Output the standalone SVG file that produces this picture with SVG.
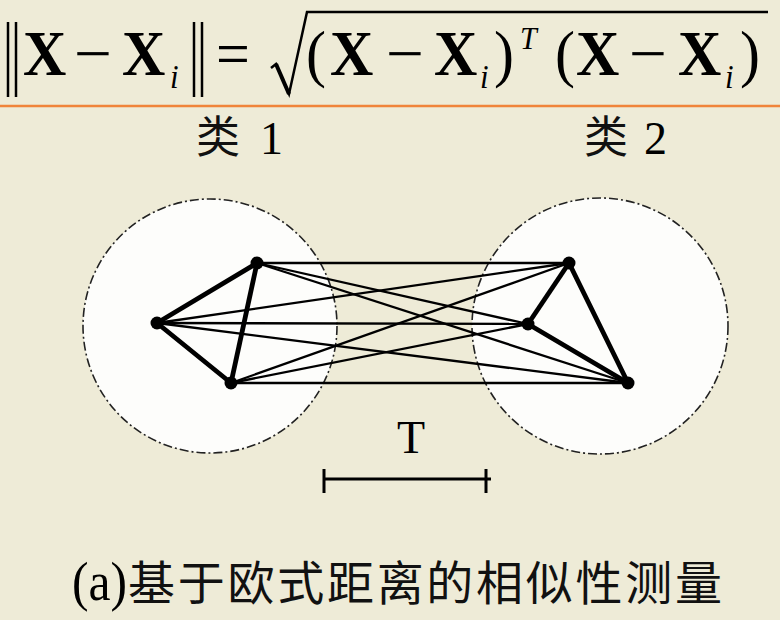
<svg xmlns="http://www.w3.org/2000/svg" width="780" height="620" viewBox="0 0 780 620">
<style>
.f{font-family:"Liberation Serif","Times New Roman",serif;fill:#000}
.b{font-weight:bold;font-size:60px}
.r{font-size:60px}
.sub{font-style:italic;font-size:31px}
.cjk{font-family:"Noto Sans CJK SC","Noto Sans CJK JP",sans-serif;fill:#111}
.thin{stroke:#000;stroke-width:2.3;fill:none}
.thick{stroke:#000;stroke-width:4.8;fill:none;stroke-linecap:round}
.region{fill:#fdfdfb;stroke:#222;stroke-width:1.6;stroke-dasharray:9 3 2 3}
.dot{fill:#000}
</style>
<rect width="780" height="620" fill="#eeebd7"/>
<!-- formula -->
<g id="formula">
<line x1="8" y1="22" x2="8" y2="97" stroke="#000" stroke-width="2.5"/>
<line x1="16" y1="22" x2="16" y2="97" stroke="#000" stroke-width="2.5"/>
<line x1="194" y1="22" x2="194" y2="97" stroke="#000" stroke-width="2.5"/>
<line x1="202" y1="22" x2="202" y2="97" stroke="#000" stroke-width="2.5"/>
<path d="M271,68 L276,64 L289,94 L307,12 L768,12" fill="none" stroke="#000" stroke-width="2.5" stroke-linejoin="miter"/>
<path d="M276,64 L289,94" fill="none" stroke="#000" stroke-width="4"/>
<g transform="translate(0,75) scale(1,1.06)">
<text class="f b" x="23" y="0">X</text>
<text class="f r" x="74" y="0" textLength="38" lengthAdjust="spacingAndGlyphs">−</text>
<text class="f b" x="122" y="0">X</text>
<text class="f sub" x="170" y="12">i</text>
<text class="f r" x="216" y="0">=</text>
<text class="f r" x="306" y="0">(</text>
<text class="f b" x="330" y="0">X</text>
<text class="f r" x="386" y="0" textLength="38" lengthAdjust="spacingAndGlyphs">−</text>
<text class="f b" x="434" y="0">X</text>
<text class="f sub" x="480" y="12">i</text>
<text class="f r" x="494" y="0">)</text>
<text class="f" x="520" y="-25" style="font-style:italic;font-size:30px">T</text>
<text class="f r" x="555" y="0">(</text>
<text class="f b" x="576" y="0">X</text>
<text class="f r" x="629" y="0" textLength="38" lengthAdjust="spacingAndGlyphs">−</text>
<text class="f b" x="678" y="0">X</text>
<text class="f sub" x="725" y="12">i</text>
<text class="f r" x="740" y="0">)</text>
</g>
</g>
<line x1="0" y1="106" x2="780" y2="106" stroke="#f0843a" stroke-width="2.5"/>
<!-- class labels -->
<g id="label1">
<text class="cjk" x="196" y="153" style="font-size:44px">类</text>
<text class="f" x="260" y="154" style="font-size:46px">1</text>
</g>
<g id="label2">
<text class="cjk" x="584" y="153" style="font-size:44px">类</text>
<text class="f" x="644" y="154" style="font-size:46px">2</text>
</g>
<!-- regions -->
<g id="class1"><circle class="region" cx="210" cy="326" r="127"/></g>
<g id="class2"><circle class="region" cx="600" cy="326" r="128"/></g>
<!-- connectors -->
<g id="connectors">
<line class="thin" x1="257" y1="263" x2="569" y2="263"/>
<line class="thin" x1="257" y1="263" x2="528" y2="324"/>
<line class="thin" x1="257" y1="263" x2="628" y2="383"/>
<line class="thin" x1="157" y1="323" x2="569" y2="263"/>
<line class="thin" x1="157" y1="323" x2="528" y2="324"/>
<line class="thin" x1="157" y1="323" x2="628" y2="383"/>
<line class="thin" x1="231" y1="383" x2="569" y2="263"/>
<line class="thin" x1="231" y1="383" x2="528" y2="324"/>
<line class="thin" x1="231" y1="383" x2="628" y2="383"/>
<line class="thick" x1="257" y1="263" x2="157" y2="323"/>
<line class="thick" x1="257" y1="263" x2="231" y2="383"/>
<line class="thick" x1="157" y1="323" x2="231" y2="383"/>
<line class="thick" x1="569" y1="263" x2="528" y2="324"/>
<line class="thick" x1="528" y1="324" x2="628" y2="383"/>
<line class="thick" x1="569" y1="263" x2="628" y2="383"/>
</g>
<!-- nodes -->
<g id="nA"><circle class="dot" cx="257" cy="263" r="6.5"/></g>
<g id="nB"><circle class="dot" cx="157" cy="323" r="6.5"/></g>
<g id="nC"><circle class="dot" cx="231" cy="383" r="6.5"/></g>
<g id="nD"><circle class="dot" cx="569" cy="263" r="6.5"/></g>
<g id="nE"><circle class="dot" cx="528" cy="324" r="6.5"/></g>
<g id="nF"><circle class="dot" cx="628" cy="383" r="6.5"/></g>
<!-- scale bar -->
<g id="scale">
<text class="f" x="411" y="453" text-anchor="middle" style="font-size:46px">T</text>
<line x1="323" y1="479" x2="491" y2="479" stroke="#000" stroke-width="3"/>
<line x1="324" y1="469" x2="324" y2="493" stroke="#000" stroke-width="3"/>
<line x1="486" y1="469" x2="486" y2="493" stroke="#000" stroke-width="3"/>
</g>
<!-- caption -->
<g id="caption">
<text class="f" x="72" y="600" textLength="55" lengthAdjust="spacingAndGlyphs" style="font-size:54px">(a)</text>
<text class="cjk" x="128" y="600" textLength="594" lengthAdjust="spacing" style="font-size:47px">基于欧式距离的相似性测量</text>
</g>
</svg>
